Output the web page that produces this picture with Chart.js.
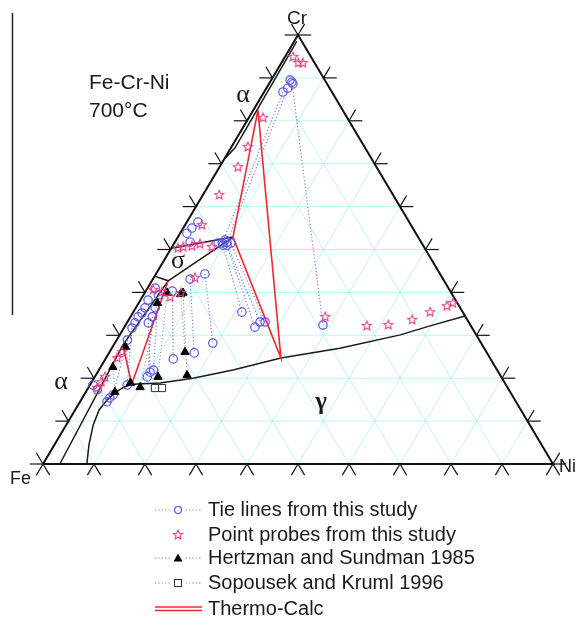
<!DOCTYPE html>
<html>
<head>
<meta charset="utf-8">
<script src="https://cdn.jsdelivr.net/npm/chart.js@4.4.1/dist/chart.umd.min.js"></script>
<style>
  html, body { margin: 0; padding: 0; background: #fff; }
  #wrap { position: relative; width: 581px; height: 620px; }
</style>
</head>
<body>
<div id="wrap"><canvas id="chart" width="581" height="620"></canvas></div>
<script>
// Fe-Cr-Ni isothermal section, 700°C
// every composition is [Cr wt%, Ni wt%], Fe is the balance

const gridSteps = [10, 20, 30, 40, 50, 60, 70, 80, 90];
const tickSteps = [0, 10, 20, 30, 40, 50, 60, 70, 80, 90, 100];

const frame = [[0, 0], [0, 100], [100, 0], [0, 0]];

// phase boundaries (black)
const alphaCrBoundary = [[98.5, 0.5], [82.5, 0.7], [73.7, 0.8], [71, 0]];
const sigmaUpper = [[50.3, 0], [52.9, 10.8]];
const sigmaLower = [[43.8, 0], [42.7, 3.2], [52.9, 10.8]];
const alphaFeBoundary = [[0, 3.3], [27.7, 1.8], [42.7, 3.2]];
const gammaBoundary = [[0, 8.6], [4.4, 6.8], [9.1, 5.3], [12.6, 4.7], [14.9, 5.1], [16.6, 5.8],
  [17.9, 6.9], [18.6, 8.1], [18.9, 13.5], [20.0, 19.4], [21.9, 26.3], [24.7, 34.3],
  [27.0, 44.7], [30.1, 55.0], [32.2, 59.8], [34.5, 65.5]];

// Thermo-Calc three phase triangles (red)
const tcUpper = [[82.5, 0.9], [52.9, 10.8], [24.7, 34.3], [82.5, 0.9]];
const tcLower = [[27.7, 1.8], [18.6, 8.1], [42.7, 3.2]];

// tie lines from this study
const tieLines = [
  [[89.0, 4.3], [32.4, 38.7]],
  [[87.6, 4.2], [51.7, 10.2]],
  [[86.7, 3.7], [51.5, 9.4]],
  [[51.0, 9.8], [35.4, 21.3]],
  [[52.2, 9.6], [31.9, 25.6]],
  [[51.0, 10.6], [33.1, 26.0]],
  [[51.5, 11.1], [33.1, 27.0]],
  [[44.3, 9.6], [28.2, 19.2]],
  [[43.1, 7.3], [25.9, 16.7]],
  [[40.3, 5.2], [24.5, 13.3]],
  [[39.4, 2.9], [21.9, 10.7]],
  [[34.3, 4.3], [20.3, 10.3]],
  [[32.9, 4.2], [21.4, 10.3]],
  [[31.7, 1.6], [18.4, 7.3]],
  [[28.9, 2.1], [16.1, 5.7]],
  [[17.3, 2.0], [14.5, 5.3]]
];
const tieSingles = [[89.5, 3.7], [88.6, 4.7], [41.0, 1.5], [38.2, 1.5], [36.4, 1.8], [36.4, 3.8],
  [35.2, 1.8], [34.3, 1.5], [32.9, 1.6], [15.4, 5.4], [18.4, 0.6], [56.4, 2.2], [55.0, 1.7],
  [53.8, 1.3], [51.7, 3.0], [51.5, 8.6]];

// point probes from this study
const probes = [[94.9, 1.6], [93.5, 3.3], [93.5, 4.2], [80.7, 2.8], [73.9, 3.2], [69.2, 3.6],
  [62.7, 3.2], [55.7, 3.3], [50.3, 1.3], [50.6, 2.2], [50.8, 3.8], [51.3, 5.1], [50.6, 7.8],
  [43.4, 8.1], [40.6, 1.3], [40.1, 3.3], [38.9, 5.5], [39.9, 7.1], [26.1, 2.5], [24.7, 2.2],
  [20.3, 2.0], [19.1, 1.9], [17.7, 1.8], [34.3, 38.2], [32.2, 47.4], [32.4, 51.5],
  [33.6, 55.6], [35.4, 58.2], [36.8, 60.8], [37.5, 61.6]];

// Hertzman and Sundman 1985
const hertzmanLines = [
  [[39.9, 4.4], [20.3, 12.4]],
  [[39.9, 7.5], [20.7, 17.9]],
  [[39.6, 7.2], [26.1, 14.8]],
  [[37.5, 3.7], [17.9, 10.1]],
  [[27.3, 2.5], [18.9, 7.7]],
  [[22.6, 2.4], [16.8, 5.7]]
];

// Sopousek and Kruml 1996
const sopousekLine = [[17.7, 13.1], [17.7, 14.5]];

const legendLabels = ['Tie lines from this study', 'Point probes from this study',
  'Hertzman and Sundman 1985', 'Sopousek and Kruml 1996', 'Thermo-Calc'];

// ---------------------------------------------------------------

const BLUE = '#5b55e6';
const PINK = '#ea3f82';
const TIE_DOT = 'rgba(95,95,205,0.8)';
const HZ_DOT = 'rgba(80,80,80,0.75)';

const toXY = ([cr, ni]) => ({ x: ni + cr / 2, y: cr });

function makeStar(color, r) {
  const c = document.createElement('canvas');
  const s = Math.ceil(r * 2 + 4);
  c.width = c.height = s;
  const g = c.getContext('2d');
  g.strokeStyle = color;
  g.lineWidth = 1.1;
  g.beginPath();
  for (let i = 0; i < 10; i++) {
    const a = -Math.PI / 2 + i * Math.PI / 5;
    const rr = i % 2 ? r * 0.45 : r;
    g.lineTo(s / 2 + rr * Math.cos(a), s / 2 + rr * Math.sin(a));
  }
  g.closePath();
  g.stroke();
  return c;
}
const starImg = makeStar(PINK, 4.8);

function lineSet(pts, color, width, dash) {
  return {
    data: pts.map(toXY), showLine: true, borderColor: color, borderWidth: width,
    borderDash: dash || [], pointRadius: 0, fill: false, clip: false
  };
}

const datasets = [];

// markers first so they sit on top
datasets.push({
  data: probes.map(toXY), showLine: false, pointStyle: starImg, pointRadius: 5, clip: false
});
hertzmanLines.forEach(pair => {
  datasets.push({
    data: pair.map(toXY), showLine: true, borderColor: HZ_DOT, borderWidth: 1, borderDash: [1, 2.5],
    pointStyle: 'triangle', pointRadius: 4.8, pointBackgroundColor: '#000', pointBorderColor: '#000',
    pointBorderWidth: 1, clip: false
  });
});
datasets.push({
  data: sopousekLine.map(toXY), showLine: true, borderColor: HZ_DOT, borderWidth: 1, borderDash: [1, 2.5],
  pointStyle: 'rect', pointRadius: 5, pointBackgroundColor: 'rgba(255,255,255,0)', pointBorderColor: '#333',
  pointBorderWidth: 1, clip: false
});
tieLines.forEach(pair => {
  datasets.push({
    data: pair.map(toXY), showLine: true, borderColor: TIE_DOT, borderWidth: 1.2, borderDash: [1.2, 2.2],
    pointStyle: 'circle', pointRadius: 4.2, pointBackgroundColor: 'rgba(255,255,255,0)',
    pointBorderColor: BLUE, pointBorderWidth: 1.2, clip: false
  });
});
datasets.push({
  data: tieSingles.map(toXY), showLine: false, pointStyle: 'circle', pointRadius: 4.2,
  pointBackgroundColor: 'rgba(255,255,255,0)', pointBorderColor: BLUE, pointBorderWidth: 1.2, clip: false
});
datasets.push(lineSet(tcUpper, '#f0282d', 1.6));
datasets.push(lineSet(tcLower, '#f0282d', 1.6));
[alphaCrBoundary, sigmaUpper, sigmaLower, alphaFeBoundary, gammaBoundary].forEach(b => {
  datasets.push(lineSet(b, '#1a1a1a', 1.5));
});
datasets.push(lineSet(frame, '#111', 2));

// cyan grid and edge ticks
const ternaryGrid = {
  id: 'ternaryGrid',
  beforeDatasetsDraw(chart) {
    const { ctx, scales: { x: xs, y: ys } } = chart;
    const P = (cr, ni) => [xs.getPixelForValue(ni + cr / 2), ys.getPixelForValue(cr)];
    const seg = (a, b) => {
      ctx.beginPath();
      ctx.moveTo(a[0], a[1]);
      ctx.lineTo(b[0], b[1]);
      ctx.stroke();
    };
    ctx.save();
    ctx.strokeStyle = 'rgba(130,232,236,0.5)';
    ctx.lineWidth = 1;
    gridSteps.forEach(k => {
      seg(P(k, 0), P(k, 100 - k));      // constant Cr
      seg(P(0, k), P(100 - k, k));      // constant Ni
      seg(P(0, k), P(k, 0));            // constant Fe
    });
    ctx.strokeStyle = '#111';
    ctx.lineWidth = 1.2;
    const t = 2.6;
    tickSteps.forEach(k => {
      // bottom Fe-Ni
      seg(P(0, k), P(-t, k));
      seg(P(0, k), P(-t, k + t));
      // left Fe-Cr
      seg(P(k, 0), P(k, -t));
      seg(P(k, 0), P(k + t, -t));
      // right Cr-Ni
      seg(P(k, 100 - k), P(k, 100 - k + t));
      seg(P(k, 100 - k), P(k + t, 100 - k));
    });
    ctx.restore();
  }
};

// labels and legend
const annotations = {
  id: 'annotations',
  afterDraw(chart) {
    const { ctx } = chart;
    ctx.save();
    ctx.fillStyle = '#1a1a1a';
    ctx.textBaseline = 'middle';
    ctx.font = '19px "Liberation Sans", Arial, sans-serif';
    ctx.textAlign = 'center';
    ctx.fillText('Cr', 297, 19);
    ctx.textAlign = 'left';
    ctx.font = '18px "Liberation Sans", Arial, sans-serif';
    ctx.fillText('Fe', 10, 479);
    ctx.fillText('Ni', 559, 467);
    ctx.font = '21px "Liberation Sans", Arial, sans-serif';
    ctx.fillText('Fe-Cr-Ni', 89, 83);
    ctx.fillText('700°C', 89, 111);

    ctx.textAlign = 'center';
    ctx.font = '26px "Liberation Serif", "DejaVu Serif", serif';
    ctx.fillText('α', 243, 95);
    ctx.fillText('α', 61, 382);
    ctx.fillText('σ', 178, 261);
    ctx.font = 'bold 25px "Liberation Serif", "DejaVu Serif", serif';
    ctx.fillText('γ', 321, 403);

    // stray frame line at the left
    ctx.strokeStyle = '#222';
    ctx.lineWidth = 1.5;
    ctx.beginPath();
    ctx.moveTo(12.5, 13);
    ctx.lineTo(12.5, 315);
    ctx.stroke();

    // legend
    const rows = [510, 535, 558, 583, 609];
    const x0 = 155, x1 = 202, xm = 178;
    ctx.lineWidth = 1;
    ctx.setLineDash([1.2, 2.2]);
    ctx.strokeStyle = TIE_DOT;
    ctx.beginPath(); ctx.moveTo(x0, rows[0]); ctx.lineTo(x1, rows[0]); ctx.stroke();
    ctx.strokeStyle = HZ_DOT;
    ctx.beginPath(); ctx.moveTo(x0, rows[2]); ctx.lineTo(x1, rows[2]); ctx.stroke();
    ctx.beginPath(); ctx.moveTo(x0, rows[3]); ctx.lineTo(x1, rows[3]); ctx.stroke();
    ctx.setLineDash([]);
    ctx.fillStyle = '#fff';
    ctx.fillRect(xm - 6, rows[0] - 6, 12, 12);
    ctx.fillRect(xm - 6, rows[2] - 6, 12, 12);
    ctx.fillRect(xm - 6, rows[3] - 6, 12, 12);
    ctx.strokeStyle = BLUE;
    ctx.lineWidth = 1.2;
    ctx.beginPath(); ctx.arc(xm, rows[0], 3.5, 0, Math.PI * 2); ctx.stroke();
    ctx.drawImage(starImg, xm - starImg.width / 2, rows[1] - starImg.height / 2);
    ctx.fillStyle = '#000';
    ctx.beginPath();
    ctx.moveTo(xm, rows[2] - 4.5); ctx.lineTo(xm + 4.5, rows[2] + 3.5); ctx.lineTo(xm - 4.5, rows[2] + 3.5);
    ctx.closePath(); ctx.fill();
    ctx.strokeStyle = '#333';
    ctx.lineWidth = 1;
    ctx.strokeRect(xm - 3.5, rows[3] - 3.5, 7, 7);
    ctx.strokeStyle = '#ee2a2f';
    ctx.lineWidth = 1.4;
    ctx.beginPath(); ctx.moveTo(x0, rows[4] - 2); ctx.lineTo(x1, rows[4] - 2); ctx.stroke();
    ctx.beginPath(); ctx.moveTo(x0, rows[4] + 1.5); ctx.lineTo(x1, rows[4] + 1.5); ctx.stroke();

    ctx.fillStyle = '#1a1a1a';
    ctx.textAlign = 'left';
    ctx.font = '20px "Liberation Sans", Arial, sans-serif';
    legendLabels.forEach((txt, i) => ctx.fillText(txt, 208, rows[i]));
    ctx.restore();
  }
};

new Chart(document.getElementById('chart'), {
  type: 'scatter',
  data: { datasets },
  options: {
    responsive: false,
    animation: false,
    devicePixelRatio: 1,
    layout: { padding: { left: 43, right: 28, top: 35, bottom: 156 } },
    scales: {
      x: { type: 'linear', min: 0, max: 100, display: false },
      y: { type: 'linear', min: 0, max: 100, display: false }
    },
    elements: { line: { tension: 0 } },
    plugins: { legend: { display: false }, tooltip: { enabled: false } }
  },
  plugins: [ternaryGrid, annotations]
});
</script>
</body>
</html>
